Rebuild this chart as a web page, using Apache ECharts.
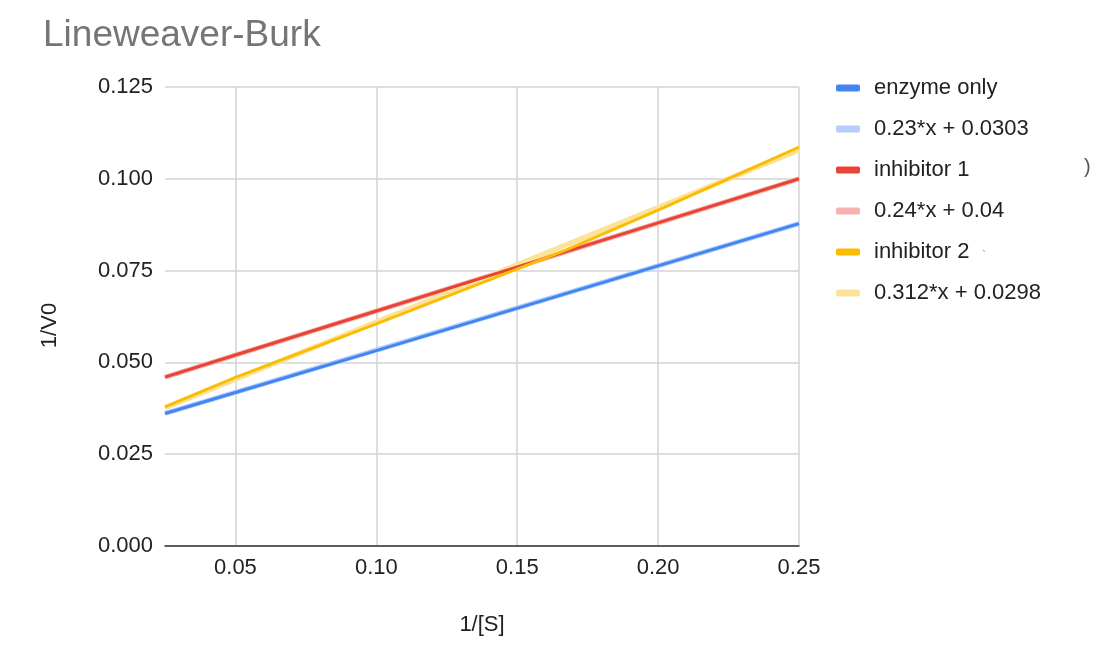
<!DOCTYPE html>
<html>
<head>
<meta charset="utf-8">
<script src="https://cdn.jsdelivr.net/npm/echarts@6/dist/echarts.min.js"></script>
<style>
  html, body { margin: 0; padding: 0; background: #fff; }
  #chart { width: 1105px; height: 657px; }
</style>
</head>
<body>
<div id="chart"></div>
<script>
// 1/[S] values of the measurements
const xVals = [0.025, 0.05, 0.1, 0.2, 0.25]
const xValsInh2 = [0.025, 0.05, 0.1, 0.167, 0.2, 0.25]

// 1/V0 readings
const enzymeOnly = [0.0361, 0.0418, 0.0532, 0.0763, 0.0878]
const inhibitor1 = [0.046, 0.052, 0.064, 0.088, 0.1]
const inhibitor2 = [0.0379, 0.0459, 0.0605, 0.0805, 0.0915, 0.1086]

// trendlines, drawn between the ends of the x range
const trendX = [0.025, 0.25]
const trendEnzyme = [0.0361, 0.0878]
const trendInh1 = [0.046, 0.1]
const trendInh2 = [0.0376, 0.1078]

const xTicks = [0.05, 0.1, 0.15, 0.2, 0.25]

const names = ['enzyme only', '0.23*x + 0.0303', 'inhibitor 1', '0.24*x + 0.04', 'inhibitor 2', '0.312*x + 0.0298']
const colors = ['#4285f4', '#b4cdfb', '#ea4335', '#f6b3ad', '#fbbc04', '#fde39a']

const pairs = (xs, ys) => xs.map((x, i) => [x, ys[i]])

const font = 'Liberation Sans, Arial, sans-serif'

const chart = echarts.init(document.getElementById('chart'))

const mkSeries = (name, color, data, width, z) => ({
  name: name,
  type: 'line',
  data: data,
  showSymbol: false,
  symbol: 'none',
  z: z,
  lineStyle: { color: color, width: width },
  itemStyle: { color: color }
})

chart.setOption({
  animation: false,
  title: {
    text: 'Lineweaver-Burk',
    left: 38,
    top: 12,
    textStyle: { fontFamily: font, fontSize: 37, fontWeight: 'normal', color: '#757575' }
  },
  legend: {
    orient: 'vertical',
    left: 831,
    top: 72,
    itemWidth: 24,
    itemHeight: 7,
    itemGap: 19,
    icon: 'roundRect',
    data: names,
    textStyle: { fontFamily: font, fontSize: 22, color: '#222', padding: [0, 0, 0, 9] }
  },
  grid: { left: 165, right: 306, top: 87, bottom: 111, containLabel: false },
  xAxis: {
    type: 'value',
    min: 0.025,
    max: 0.25,
    name: '1/[S]',
    nameLocation: 'middle',
    nameGap: 68,
    nameTextStyle: { fontFamily: font, fontSize: 22, color: '#222' },
    axisLine: { show: true, onZero: false, lineStyle: { color: '#333', width: 1.5 } },
    axisTick: { show: false, customValues: xTicks },
    axisLabel: {
      customValues: xTicks,
      margin: 11,
      fontFamily: font,
      fontSize: 22,
      color: '#222',
      formatter: v => v.toFixed(2)
    },
    splitLine: { show: true, lineStyle: { color: '#d3d3d3', width: 1.5 } }
  },
  yAxis: {
    type: 'value',
    min: 0,
    max: 0.125,
    interval: 0.025,
    name: '1/V0',
    nameLocation: 'middle',
    nameGap: 104,
    nameRotate: 90,
    nameTextStyle: { fontFamily: font, fontSize: 22, color: '#222', padding: [0, 18, 0, 0] },
    axisLine: { show: false },
    axisTick: { show: false },
    axisLabel: {
      margin: 12,
      fontFamily: font,
      fontSize: 22,
      color: '#222',
      formatter: v => v.toFixed(3)
    },
    splitLine: { show: true, lineStyle: { color: '#d3d3d3', width: 1.5 } }
  },
  graphic: [
    { type: 'text', left: 1084, top: 157, style: { text: ')', fontFamily: font, fontSize: 20, fill: '#555' } },
    { type: 'text', left: 982, top: 251, style: { text: '`', fontFamily: font, fontSize: 12, fill: '#999' } }
  ],
  series: [
    mkSeries(names[1], colors[1], pairs(trendX, trendEnzyme), 5, 1),
    mkSeries(names[3], colors[3], pairs(trendX, trendInh1), 5, 1),
    mkSeries(names[5], colors[5], pairs(trendX, trendInh2), 5, 1),
    mkSeries(names[0], colors[0], pairs(xVals, enzymeOnly), 3, 2),
    mkSeries(names[2], colors[2], pairs(xVals, inhibitor1), 3, 2),
    mkSeries(names[4], colors[4], pairs(xValsInh2, inhibitor2), 3, 2)
  ]
})
</script>
</body>
</html>
